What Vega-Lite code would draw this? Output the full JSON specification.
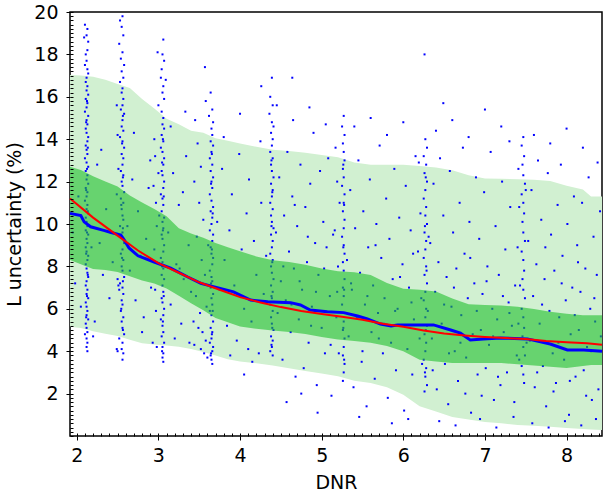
{
  "$schema": "https://vega.github.io/schema/vega-lite/v6.json",
  "width": 532,
  "height": 424,
  "autosize": "none",
  "padding": {"left": 70, "top": 12, "right": 7, "bottom": 55},
  "background": "white",
  "config": {
    "view": {"stroke": "black", "strokeWidth": 1.5},
    "axis": {
      "labelFont": "DejaVu Sans",
      "titleFont": "DejaVu Sans",
      "labelFontSize": 19,
      "titleFontSize": 19,
      "titleFontWeight": "normal",
      "labelColor": "black",
      "titleColor": "black",
      "tickColor": "black",
      "tickWidth": 1,
      "domain": false,
      "grid": false,
      "zindex": 1
    }
  },
  "resolve": {
    "scale": {"x": "independent", "y": "independent"},
    "axis": {"x": "independent", "y": "independent"}
  },
  "datasets": {
    "bands": [
      {"x": 1.917, "outer_lo": 5.15, "outer_hi": 17.03, "inner_lo": 8.3, "inner_hi": 12.7},
      {"x": 2.05, "outer_lo": 5.1, "outer_hi": 17.0, "inner_lo": 8.1, "inner_hi": 12.55},
      {"x": 2.2, "outer_lo": 4.94, "outer_hi": 16.94, "inner_lo": 7.88, "inner_hi": 12.25},
      {"x": 2.35, "outer_lo": 4.82, "outer_hi": 16.8, "inner_lo": 7.83, "inner_hi": 12.0},
      {"x": 2.5, "outer_lo": 4.72, "outer_hi": 16.6, "inner_lo": 7.73, "inner_hi": 11.77},
      {"x": 2.65, "outer_lo": 4.54, "outer_hi": 16.42, "inner_lo": 7.54, "inner_hi": 11.35},
      {"x": 2.8, "outer_lo": 4.37, "outer_hi": 15.9, "inner_lo": 7.34, "inner_hi": 11.02},
      {"x": 2.95, "outer_lo": 4.32, "outer_hi": 15.45, "inner_lo": 7.19, "inner_hi": 10.71},
      {"x": 3.1, "outer_lo": 4.27, "outer_hi": 14.97, "inner_lo": 6.96, "inner_hi": 10.37},
      {"x": 3.25, "outer_lo": 4.21, "outer_hi": 14.7, "inner_lo": 6.62, "inner_hi": 9.8},
      {"x": 3.4, "outer_lo": 4.1, "outer_hi": 14.4, "inner_lo": 6.26, "inner_hi": 9.55},
      {"x": 3.55, "outer_lo": 3.96, "outer_hi": 14.3, "inner_lo": 5.93, "inner_hi": 9.35},
      {"x": 3.7, "outer_lo": 3.8, "outer_hi": 14.05, "inner_lo": 5.57, "inner_hi": 9.1},
      {"x": 3.85, "outer_lo": 3.62, "outer_hi": 13.93, "inner_lo": 5.37, "inner_hi": 8.9},
      {"x": 4.0, "outer_lo": 3.52, "outer_hi": 13.8, "inner_lo": 5.16, "inner_hi": 8.71},
      {"x": 4.2, "outer_lo": 3.43, "outer_hi": 13.64, "inner_lo": 5.06, "inner_hi": 8.47},
      {"x": 4.4, "outer_lo": 3.33, "outer_hi": 13.5, "inner_lo": 4.98, "inner_hi": 8.29},
      {"x": 4.6, "outer_lo": 3.2, "outer_hi": 13.44, "inner_lo": 4.9, "inner_hi": 8.21},
      {"x": 4.8, "outer_lo": 3.07, "outer_hi": 13.36, "inner_lo": 4.81, "inner_hi": 8.08},
      {"x": 5.0, "outer_lo": 2.95, "outer_hi": 13.25, "inner_lo": 4.67, "inner_hi": 7.9},
      {"x": 5.2, "outer_lo": 2.82, "outer_hi": 13.15, "inner_lo": 4.55, "inner_hi": 7.77},
      {"x": 5.4, "outer_lo": 2.61, "outer_hi": 12.9, "inner_lo": 4.48, "inner_hi": 7.72},
      {"x": 5.6, "outer_lo": 2.5, "outer_hi": 12.8, "inner_lo": 4.4, "inner_hi": 7.6},
      {"x": 5.8, "outer_lo": 2.3, "outer_hi": 12.8, "inner_lo": 4.24, "inner_hi": 7.22},
      {"x": 6.0, "outer_lo": 1.95, "outer_hi": 12.79, "inner_lo": 4.0, "inner_hi": 6.95},
      {"x": 6.2, "outer_lo": 1.4, "outer_hi": 12.73, "inner_lo": 3.6, "inner_hi": 6.9},
      {"x": 6.4, "outer_lo": 1.15, "outer_hi": 12.67, "inner_lo": 3.51, "inner_hi": 6.82},
      {"x": 6.6, "outer_lo": 0.9, "outer_hi": 12.53, "inner_lo": 3.44, "inner_hi": 6.49},
      {"x": 6.8, "outer_lo": 0.78, "outer_hi": 12.3, "inner_lo": 3.44, "inner_hi": 6.22},
      {"x": 7.0, "outer_lo": 0.66, "outer_hi": 12.15, "inner_lo": 3.44, "inner_hi": 6.18},
      {"x": 7.2, "outer_lo": 0.6, "outer_hi": 12.13, "inner_lo": 3.44, "inner_hi": 6.15},
      {"x": 7.4, "outer_lo": 0.52, "outer_hi": 12.11, "inner_lo": 3.38, "inner_hi": 6.1},
      {"x": 7.6, "outer_lo": 0.48, "outer_hi": 12.09, "inner_lo": 3.33, "inner_hi": 5.99},
      {"x": 7.8, "outer_lo": 0.44, "outer_hi": 12.03, "inner_lo": 3.27, "inner_hi": 5.86},
      {"x": 8.0, "outer_lo": 0.38, "outer_hi": 11.8, "inner_lo": 3.21, "inner_hi": 5.77},
      {"x": 8.2, "outer_lo": 0.33, "outer_hi": 11.63, "inner_lo": 3.3, "inner_hi": 5.7},
      {"x": 8.3, "outer_lo": 0.31, "outer_hi": 11.3, "inner_lo": 3.35, "inner_hi": 5.7},
      {"x": 8.434, "outer_lo": 0.28, "outer_hi": 11.3, "inner_lo": 3.35, "inner_hi": 5.7}
    ],
    "median": [
      {"x": 1.917, "y": 10.5}, {"x": 2.05, "y": 10.4}, {"x": 2.09, "y": 10.1}, {"x": 2.17, "y": 9.87},
      {"x": 2.33, "y": 9.7}, {"x": 2.42, "y": 9.6}, {"x": 2.54, "y": 9.48}, {"x": 2.58, "y": 9.25},
      {"x": 2.64, "y": 8.87}, {"x": 2.75, "y": 8.5}, {"x": 2.94, "y": 8.22}, {"x": 3.15, "y": 7.92},
      {"x": 3.36, "y": 7.5}, {"x": 3.52, "y": 7.2}, {"x": 3.92, "y": 6.8}, {"x": 4.13, "y": 6.41},
      {"x": 4.34, "y": 6.33}, {"x": 4.62, "y": 6.29}, {"x": 4.74, "y": 6.18}, {"x": 4.86, "y": 5.94},
      {"x": 5.07, "y": 5.86}, {"x": 5.27, "y": 5.82}, {"x": 5.44, "y": 5.66}, {"x": 5.56, "y": 5.52},
      {"x": 5.72, "y": 5.28}, {"x": 5.85, "y": 5.19}, {"x": 5.93, "y": 5.24}, {"x": 6.37, "y": 5.24},
      {"x": 6.58, "y": 5.0}, {"x": 6.7, "y": 4.85}, {"x": 6.82, "y": 4.53}, {"x": 6.98, "y": 4.58},
      {"x": 7.19, "y": 4.62}, {"x": 7.52, "y": 4.58}, {"x": 7.8, "y": 4.34}, {"x": 8.01, "y": 4.06},
      {"x": 8.21, "y": 4.06}, {"x": 8.434, "y": 4.0}
    ],
    "fit": [
      {"x": 1.917, "y": 11.2}, {"x": 2.2, "y": 10.3}, {"x": 2.5, "y": 9.45}, {"x": 2.75, "y": 8.75},
      {"x": 3.0, "y": 8.15}, {"x": 3.25, "y": 7.7}, {"x": 3.5, "y": 7.25}, {"x": 3.75, "y": 6.9},
      {"x": 4.0, "y": 6.55}, {"x": 4.25, "y": 6.3}, {"x": 4.5, "y": 6.08}, {"x": 4.75, "y": 5.9},
      {"x": 5.0, "y": 5.75}, {"x": 5.25, "y": 5.62}, {"x": 5.5, "y": 5.48}, {"x": 5.75, "y": 5.3},
      {"x": 6.0, "y": 5.15}, {"x": 6.25, "y": 4.98}, {"x": 6.5, "y": 4.83}, {"x": 6.75, "y": 4.74},
      {"x": 7.0, "y": 4.67}, {"x": 7.25, "y": 4.62}, {"x": 7.5, "y": 4.57}, {"x": 7.75, "y": 4.48},
      {"x": 8.0, "y": 4.42}, {"x": 8.25, "y": 4.37}, {"x": 8.434, "y": 4.3}
    ],
    "points": [
      {"x":2.10,"y":19.4},{"x":2.13,"y":19.2},{"x":2.12,"y":18.9},{"x":2.09,"y":18.8},{"x":2.14,"y":18.6},{"x":2.13,"y":18.2},{"x":2.11,"y":18.0},{"x":2.12,"y":17.7},{"x":2.10,"y":17.5},{"x":2.13,"y":17.3},{"x":2.14,"y":17.1},{"x":2.12,"y":16.9},
      {"x":2.11,"y":16.7},{"x":2.13,"y":16.5},{"x":2.12,"y":16.3},{"x":2.14,"y":16.1},{"x":2.11,"y":15.9},{"x":2.13,"y":15.7},{"x":2.12,"y":15.5},{"x":2.10,"y":15.3},{"x":2.14,"y":15.1},{"x":2.12,"y":14.9},{"x":2.13,"y":14.7},{"x":2.11,"y":14.5},{"x":2.12,"y":14.3},{"x":2.14,"y":14.1},{"x":2.13,"y":13.9},{"x":2.11,"y":13.7},{"x":2.12,"y":13.5},{"x":2.13,"y":13.3},{"x":2.10,"y":13.1},{"x":2.12,"y":12.9},{"x":2.14,"y":12.7},{"x":2.11,"y":12.5},{"x":2.13,"y":12.3},{"x":2.12,"y":12.1},{"x":2.14,"y":11.9},{"x":2.11,"y":11.7},{"x":2.13,"y":11.5},{"x":2.12,"y":11.3},{"x":2.10,"y":11.1},{"x":2.13,"y":10.9},{"x":2.12,"y":10.7},{"x":2.14,"y":10.5},{"x":2.11,"y":10.3},{"x":2.12,"y":10.1},{"x":2.13,"y":9.9},{"x":2.11,"y":9.7},{"x":2.14,"y":9.5},{"x":2.12,"y":9.3},{"x":2.13,"y":9.1},{"x":2.11,"y":8.9},{"x":2.12,"y":8.7},{"x":2.14,"y":8.5},{"x":2.13,"y":8.3},{"x":2.11,"y":8.1},{"x":2.12,"y":7.9},{"x":2.13,"y":7.7},{"x":2.14,"y":7.5},{"x":2.12,"y":7.3},{"x":2.11,"y":7.1},{"x":2.13,"y":6.9},{"x":2.12,"y":6.7},{"x":2.14,"y":6.5},{"x":2.11,"y":6.3},{"x":2.12,"y":6.1},{"x":2.13,"y":5.9},{"x":2.12,"y":5.7},{"x":2.14,"y":5.5},{"x":2.11,"y":5.3},{"x":2.12,"y":5.1},{"x":2.13,"y":4.9},{"x":2.10,"y":4.8},{"x":2.12,"y":4.6},{"x":2.13,"y":4.4},{"x":2.12,"y":4.2},{"x":2.13,"y":4.0},
      {"x":2.125,"y":15.8},{"x":2.115,"y":14.8},{"x":2.135,"y":13.6},{"x":2.125,"y":12.6},{"x":2.115,"y":11.6},{"x":2.135,"y":10.6},{"x":2.125,"y":9.6},{"x":2.115,"y":8.6},{"x":2.135,"y":7.6},{"x":2.125,"y":6.6},{"x":2.115,"y":5.6},
      {"x":2.56,"y":19.8},{"x":2.53,"y":19.6},{"x":2.55,"y":19.3},{"x":2.57,"y":18.9},{"x":2.52,"y":18.5},{"x":2.56,"y":18.1},{"x":2.54,"y":17.8},{"x":2.58,"y":17.5},{"x":2.55,"y":17.2},{"x":2.57,"y":16.9},{"x":2.53,"y":16.7},{"x":2.56,"y":16.4},
      {"x":2.55,"y":16.2},{"x":2.57,"y":15.9},{"x":2.56,"y":15.6},{"x":2.54,"y":15.4},{"x":2.58,"y":15.2},{"x":2.56,"y":14.9},{"x":2.55,"y":14.6},{"x":2.57,"y":14.4},{"x":2.53,"y":14.1},{"x":2.56,"y":13.9},{"x":2.58,"y":13.6},{"x":2.55,"y":13.3},{"x":2.57,"y":13.1},{"x":2.56,"y":12.8},{"x":2.54,"y":12.5},{"x":2.57,"y":12.3},{"x":2.55,"y":12.0},{"x":2.56,"y":11.8},{"x":2.58,"y":11.5},{"x":2.54,"y":11.2},{"x":2.57,"y":11.0},{"x":2.55,"y":10.7},{"x":2.56,"y":10.4},{"x":2.57,"y":10.2},{"x":2.53,"y":9.9},{"x":2.56,"y":9.6},{"x":2.55,"y":9.4},{"x":2.58,"y":9.1},{"x":2.56,"y":8.8},{"x":2.54,"y":8.6},{"x":2.57,"y":8.3},{"x":2.55,"y":8.0},{"x":2.56,"y":7.8},{"x":2.58,"y":7.5},{"x":2.53,"y":7.2},{"x":2.56,"y":7.0},{"x":2.57,"y":6.7},{"x":2.55,"y":6.4},{"x":2.56,"y":6.2},{"x":2.54,"y":5.9},{"x":2.57,"y":5.6},{"x":2.55,"y":5.4},{"x":2.56,"y":5.1},{"x":2.58,"y":4.8},{"x":2.52,"y":4.6},{"x":2.56,"y":4.4},{"x":2.55,"y":4.1},{"x":2.57,"y":3.9},{"x":2.56,"y":3.6},
      {"x":2.49,"y":15.6},{"x":2.50,"y":14.2},{"x":2.51,"y":12.6},{"x":2.49,"y":11.4},{"x":2.50,"y":7.4},{"x":2.51,"y":7.1},{"x":2.49,"y":4.1},{"x":2.50,"y":4.0},{"x":2.52,"y":6.9},
      {"x":2.565,"y":15.1},{"x":2.555,"y":13.8},{"x":2.565,"y":12.2},{"x":2.545,"y":10.9},{"x":2.565,"y":9.8},{"x":2.555,"y":8.4},{"x":2.565,"y":7.3},{"x":2.545,"y":6.0},{"x":2.565,"y":5.0},
      {"x":3.06,"y":18.7},{"x":2.99,"y":18.1},{"x":3.05,"y":18.0},{"x":3.07,"y":17.7},{"x":3.04,"y":17.3},{"x":3.03,"y":16.9},{"x":3.06,"y":16.5},{"x":3.05,"y":16.2},{"x":3.07,"y":15.9},{"x":3.00,"y":15.6},{"x":3.04,"y":15.3},
      {"x":3.06,"y":15.0},{"x":3.05,"y":14.7},{"x":3.07,"y":14.5},{"x":3.04,"y":14.2},{"x":3.06,"y":13.9},{"x":3.03,"y":13.6},{"x":3.05,"y":13.4},{"x":3.07,"y":13.1},{"x":3.06,"y":12.8},{"x":3.04,"y":12.5},{"x":3.05,"y":12.3},{"x":3.07,"y":12.0},{"x":3.06,"y":11.7},{"x":3.03,"y":11.4},{"x":3.05,"y":11.2},{"x":3.06,"y":10.9},{"x":3.04,"y":10.6},{"x":3.07,"y":10.3},{"x":3.05,"y":10.1},{"x":3.06,"y":9.8},{"x":3.04,"y":9.5},{"x":3.05,"y":9.3},{"x":3.07,"y":9.0},{"x":3.06,"y":8.7},{"x":3.03,"y":8.4},{"x":3.05,"y":8.2},{"x":3.06,"y":7.9},{"x":3.04,"y":7.6},{"x":3.07,"y":7.4},{"x":3.05,"y":7.1},{"x":3.06,"y":6.8},{"x":3.04,"y":6.5},{"x":3.05,"y":6.3},{"x":3.07,"y":6.0},{"x":3.06,"y":5.7},{"x":3.03,"y":5.5},{"x":3.05,"y":5.2},{"x":3.06,"y":4.9},{"x":3.04,"y":4.7},{"x":3.07,"y":4.4},{"x":3.05,"y":4.2},{"x":3.06,"y":3.9},{"x":3.05,"y":3.7},{"x":3.06,"y":3.5},
      {"x":2.95,"y":14.0},{"x":2.96,"y":13.2},{"x":2.94,"y":11.8},{"x":2.97,"y":11.0},{"x":2.98,"y":9.9},{"x":2.95,"y":8.8},{"x":2.96,"y":6.9},{"x":2.97,"y":5.9},{"x":2.93,"y":4.4},{"x":2.98,"y":4.2},{"x":3.00,"y":12.4},{"x":3.01,"y":10.4},{"x":3.09,"y":16.8},
      {"x":3.055,"y":14.0},{"x":3.045,"y":12.9},{"x":3.065,"y":11.3},{"x":3.055,"y":9.7},{"x":3.045,"y":8.0},{"x":3.065,"y":6.6},{"x":3.055,"y":5.4},{"x":3.045,"y":4.0},
      {"x":3.64,"y":16.2},{"x":3.58,"y":15.8},{"x":3.66,"y":15.4},{"x":3.62,"y":15.1},{"x":3.67,"y":14.8},{"x":3.65,"y":14.5},
      {"x":3.66,"y":14.2},{"x":3.64,"y":13.9},{"x":3.67,"y":13.7},{"x":3.65,"y":13.4},{"x":3.63,"y":13.1},{"x":3.66,"y":12.8},{"x":3.64,"y":12.5},{"x":3.67,"y":12.2},{"x":3.65,"y":12.0},{"x":3.66,"y":11.7},{"x":3.63,"y":11.4},{"x":3.65,"y":11.1},{"x":3.67,"y":10.8},{"x":3.64,"y":10.6},{"x":3.66,"y":10.3},{"x":3.65,"y":10.0},{"x":3.63,"y":9.7},{"x":3.67,"y":9.5},{"x":3.66,"y":9.2},{"x":3.64,"y":8.9},{"x":3.65,"y":8.6},{"x":3.67,"y":8.4},{"x":3.66,"y":8.1},{"x":3.63,"y":7.8},{"x":3.65,"y":7.5},{"x":3.66,"y":7.3},{"x":3.64,"y":7.0},{"x":3.67,"y":6.7},{"x":3.65,"y":6.5},{"x":3.66,"y":6.2},{"x":3.63,"y":5.9},{"x":3.65,"y":5.7},{"x":3.67,"y":5.4},{"x":3.64,"y":5.1},{"x":3.66,"y":4.9},{"x":3.65,"y":4.6},{"x":3.63,"y":4.4},{"x":3.67,"y":4.2},{"x":3.66,"y":4.0},{"x":3.64,"y":3.8},{"x":3.65,"y":3.6},{"x":3.66,"y":3.4},
      {"x":3.45,"y":14.9},{"x":3.48,"y":13.8},{"x":3.52,"y":12.7},{"x":3.44,"y":12.0},{"x":3.50,"y":11.0},{"x":3.55,"y":10.2},{"x":3.47,"y":9.4},{"x":3.53,"y":8.3},{"x":3.57,"y":7.6},{"x":3.46,"y":6.6},{"x":3.51,"y":5.8},{"x":3.43,"y":5.4},{"x":3.49,"y":5.1},{"x":3.54,"y":4.9},{"x":3.58,"y":4.5},{"x":3.44,"y":4.3},{"x":3.52,"y":4.1},{"x":3.56,"y":3.9},{"x":3.60,"y":3.7},{"x":3.59,"y":6.1},{"x":3.61,"y":9.0},
      {"x":3.655,"y":13.3},{"x":3.645,"y":11.9},{"x":3.665,"y":10.5},{"x":3.655,"y":8.8},{"x":3.645,"y":7.2},{"x":3.665,"y":5.9},{"x":3.655,"y":4.8},{"x":3.645,"y":3.9},
      {"x":4.39,"y":16.9},{"x":4.37,"y":16.0},{"x":4.40,"y":15.6},{"x":4.36,"y":15.2},{"x":4.39,"y":14.8},{"x":4.41,"y":14.6},
      {"x":4.38,"y":14.3},{"x":4.40,"y":14.0},{"x":4.39,"y":13.7},{"x":4.37,"y":13.4},{"x":4.40,"y":13.1},{"x":4.38,"y":12.8},{"x":4.39,"y":12.5},{"x":4.41,"y":12.2},{"x":4.38,"y":11.9},{"x":4.40,"y":11.6},{"x":4.39,"y":11.3},{"x":4.37,"y":11.0},{"x":4.40,"y":10.7},{"x":4.38,"y":10.4},{"x":4.39,"y":10.1},{"x":4.41,"y":9.8},{"x":4.38,"y":9.5},{"x":4.40,"y":9.2},{"x":4.39,"y":8.9},{"x":4.37,"y":8.6},{"x":4.40,"y":8.3},{"x":4.38,"y":8.0},{"x":4.39,"y":7.7},{"x":4.41,"y":7.4},{"x":4.38,"y":7.1},{"x":4.40,"y":6.8},{"x":4.39,"y":6.5},{"x":4.37,"y":6.2},{"x":4.40,"y":5.9},{"x":4.38,"y":5.6},{"x":4.39,"y":5.3},{"x":4.41,"y":5.0},{"x":4.38,"y":4.7},{"x":4.40,"y":4.5},{"x":4.39,"y":4.2},{"x":4.37,"y":4.0},{"x":4.40,"y":3.8},
      {"x":4.385,"y":13.0},{"x":4.395,"y":11.5},{"x":4.385,"y":9.9},{"x":4.395,"y":8.2},{"x":4.385,"y":6.6},{"x":4.395,"y":5.1},{"x":4.385,"y":4.3},
      {"x":5.27,"y":15.1},{"x":5.25,"y":14.6},{"x":5.28,"y":14.2},{"x":5.26,"y":13.8},{"x":5.27,"y":13.4},{"x":5.28,"y":13.0},{"x":5.26,"y":12.6},{"x":5.27,"y":12.2},{"x":5.25,"y":11.8},{"x":5.28,"y":11.4},{"x":5.27,"y":11.0},{"x":5.26,"y":10.6},{"x":5.28,"y":10.2},{"x":5.27,"y":9.8},{"x":5.25,"y":9.4},{"x":5.27,"y":9.0},{"x":5.28,"y":8.6},{"x":5.26,"y":8.2},{"x":5.27,"y":7.8},{"x":5.28,"y":7.4},{"x":5.26,"y":7.0},{"x":5.27,"y":6.6},{"x":5.25,"y":6.2},{"x":5.28,"y":5.8},{"x":5.27,"y":5.4},{"x":5.26,"y":5.0},{"x":5.28,"y":4.6},{"x":5.27,"y":4.2},{"x":5.26,"y":3.8},{"x":5.28,"y":3.4},{"x":5.27,"y":3.0},{"x":5.26,"y":2.6},
      {"x":5.17,"y":13.6},{"x":5.19,"y":12.0},{"x":5.16,"y":9.7},{"x":5.20,"y":8.0},{"x":5.18,"y":5.6},{"x":5.21,"y":3.9},{"x":5.22,"y":11.0},{"x":5.19,"y":6.8},
      {"x":5.265,"y":12.8},{"x":5.275,"y":10.9},{"x":5.265,"y":8.9},{"x":5.275,"y":6.9},{"x":5.265,"y":5.1},{"x":5.275,"y":3.6},
      {"x":6.27,"y":14.0},{"x":6.29,"y":13.6},{"x":6.25,"y":13.2},{"x":6.28,"y":12.8},{"x":6.26,"y":12.4},{"x":6.29,"y":12.0},{"x":6.27,"y":11.6},{"x":6.25,"y":11.2},{"x":6.28,"y":10.8},{"x":6.27,"y":10.4},{"x":6.29,"y":10.0},{"x":6.26,"y":9.6},{"x":6.28,"y":9.2},{"x":6.27,"y":8.8},{"x":6.25,"y":8.4},{"x":6.28,"y":8.0},{"x":6.26,"y":7.6},{"x":6.29,"y":7.2},{"x":6.27,"y":6.8},{"x":6.25,"y":6.4},{"x":6.28,"y":6.0},{"x":6.27,"y":5.6},{"x":6.29,"y":5.2},{"x":6.26,"y":4.8},{"x":6.28,"y":4.4},{"x":6.27,"y":4.0},{"x":6.25,"y":3.6},{"x":6.28,"y":3.2},{"x":6.27,"y":2.8},{"x":6.29,"y":2.4},{"x":6.26,"y":2.1},
      {"x":6.19,"y":12.9},{"x":6.21,"y":10.5},{"x":6.18,"y":8.7},{"x":6.22,"y":6.5},{"x":6.20,"y":4.6},{"x":6.23,"y":3.4},{"x":6.31,"y":9.4},{"x":6.30,"y":5.9},
      {"x":6.275,"y":12.2},{"x":6.265,"y":9.9},{"x":6.285,"y":7.8},{"x":6.275,"y":5.0},{"x":6.265,"y":3.0},
      {"x":7.47,"y":14.1},{"x":7.45,"y":13.7},{"x":7.48,"y":13.2},{"x":7.46,"y":12.8},{"x":7.47,"y":12.3},{"x":7.49,"y":11.9},{"x":7.45,"y":11.4},{"x":7.47,"y":11.0},{"x":7.48,"y":10.5},{"x":7.46,"y":10.1},{"x":7.47,"y":9.6},{"x":7.49,"y":9.2},{"x":7.45,"y":8.7},{"x":7.47,"y":8.3},{"x":7.48,"y":7.8},{"x":7.46,"y":7.4},{"x":7.47,"y":6.9},{"x":7.49,"y":6.5},{"x":7.45,"y":6.0},{"x":7.47,"y":5.6},{"x":7.48,"y":5.1},{"x":7.46,"y":4.7},{"x":7.47,"y":4.2},{"x":7.49,"y":3.8},{"x":7.45,"y":3.3},{"x":7.47,"y":2.9},{"x":7.48,"y":2.5},
      {"x":7.41,"y":12.6},{"x":7.42,"y":10.8},{"x":7.40,"y":8.9},{"x":7.43,"y":7.1},{"x":7.41,"y":5.3},{"x":7.42,"y":3.6},{"x":7.50,"y":11.6},{"x":7.51,"y":4.4},
      {"x":1.95,"y":9.6},{"x":1.98,"y":7.2},{"x":2.02,"y":11.3},{"x":2.05,"y":6.1},{"x":2.18,"y":8.9},{"x":2.22,"y":5.4},{"x":2.25,"y":12.8},{"x":2.28,"y":9.1},{"x":2.32,"y":7.6},{"x":2.36,"y":10.7},{"x":2.40,"y":6.5},{"x":2.44,"y":8.2},{"x":2.20,"y":4.7},{"x":2.30,"y":13.5},
      {"x":2.62,"y":9.9},{"x":2.65,"y":7.8},{"x":2.68,"y":12.1},{"x":2.72,"y":6.4},{"x":2.75,"y":10.6},{"x":2.78,"y":8.5},{"x":2.82,"y":5.6},{"x":2.85,"y":9.3},{"x":2.88,"y":11.7},{"x":2.91,"y":7.0},{"x":2.70,"y":14.3},{"x":2.80,"y":4.9},{"x":2.90,"y":13.0},
      {"x":3.12,"y":9.6},{"x":3.15,"y":6.2},{"x":3.18,"y":12.4},{"x":3.22,"y":8.1},{"x":3.25,"y":10.9},{"x":3.28,"y":5.3},{"x":3.31,"y":7.4},{"x":3.34,"y":13.2},{"x":3.37,"y":9.0},{"x":3.40,"y":6.8},{"x":3.20,"y":4.6},{"x":3.30,"y":11.5},{"x":3.38,"y":4.4},{"x":3.15,"y":14.6},{"x":3.33,"y":15.3},{"x":3.26,"y":7.9},
      {"x":3.72,"y":10.1},{"x":3.75,"y":6.9},{"x":3.78,"y":12.6},{"x":3.81,"y":8.3},{"x":3.84,"y":5.2},{"x":3.87,"y":9.7},{"x":3.90,"y":11.4},{"x":3.93,"y":7.1},{"x":3.96,"y":4.5},{"x":3.99,"y":13.3},{"x":4.02,"y":8.8},{"x":4.05,"y":6.0},{"x":4.08,"y":10.5},{"x":4.11,"y":12.1},{"x":4.14,"y":5.4},{"x":4.17,"y":9.2},{"x":4.20,"y":7.6},{"x":4.23,"y":3.9},{"x":4.26,"y":11.0},{"x":4.29,"y":6.7},{"x":4.32,"y":8.5},{"x":3.80,"y":14.1},{"x":4.00,"y":15.2},{"x":4.10,"y":4.1},{"x":4.25,"y":13.9},{"x":3.88,"y":3.8},{"x":4.15,"y":3.5},{"x":4.05,"y":2.9},
      {"x":3.57,"y":17.4},{"x":4.64,"y":16.9},{"x":4.26,"y":16.5},{"x":6.26,"y":18.0},{"x":6.49,"y":15.7},
      {"x":4.44,"y":9.6},{"x":4.46,"y":5.8},{"x":4.48,"y":12.2},{"x":4.50,"y":7.3},{"x":4.52,"y":3.6},{"x":4.54,"y":10.4},{"x":4.56,"y":6.4},{"x":4.58,"y":13.4},{"x":4.60,"y":8.7},{"x":4.62,"y":4.9},{"x":4.64,"y":11.3},{"x":4.66,"y":7.9},{"x":4.68,"y":2.8},{"x":4.70,"y":9.9},{"x":4.72,"y":5.5},{"x":4.74,"y":12.8},{"x":4.76,"y":6.9},{"x":4.78,"y":3.2},{"x":4.80,"y":10.8},{"x":4.82,"y":8.2},{"x":4.84,"y":4.4},{"x":4.86,"y":11.9},{"x":4.88,"y":6.1},{"x":4.90,"y":14.3},{"x":4.92,"y":9.1},{"x":4.94,"y":2.4},{"x":4.96,"y":7.6},{"x":4.98,"y":12.5},{"x":5.00,"y":5.1},{"x":5.02,"y":10.1},{"x":5.04,"y":3.9},{"x":5.06,"y":8.9},{"x":5.08,"y":13.1},{"x":5.10,"y":6.6},{"x":5.12,"y":1.9},{"x":5.14,"y":9.5},{"x":4.45,"y":15.6},{"x":4.65,"y":14.9},{"x":4.85,"y":15.5},{"x":5.05,"y":14.7},{"x":4.57,"y":1.6},{"x":4.75,"y":2.0},{"x":4.95,"y":1.1},{"x":5.11,"y":4.3},{"x":4.87,"y":5.2},{"x":4.63,"y":6.2},{"x":4.53,"y":8.0},{"x":4.73,"y":7.3},{"x":4.93,"y":6.8},{"x":5.03,"y":7.9},{"x":4.83,"y":9.4},{"x":4.67,"y":10.9},
      {"x":5.31,"y":8.3},{"x":5.33,"y":4.7},{"x":5.35,"y":11.6},{"x":5.37,"y":6.9},{"x":5.39,"y":2.3},{"x":5.41,"y":9.8},{"x":5.43,"y":5.6},{"x":5.45,"y":13.0},{"x":5.47,"y":7.7},{"x":5.49,"y":3.5},{"x":5.51,"y":10.6},{"x":5.53,"y":6.2},{"x":5.55,"y":1.4},{"x":5.57,"y":8.9},{"x":5.59,"y":12.1},{"x":5.61,"y":4.9},{"x":5.63,"y":7.1},{"x":5.65,"y":2.7},{"x":5.67,"y":10.0},{"x":5.69,"y":5.8},{"x":5.71,"y":13.7},{"x":5.73,"y":8.4},{"x":5.75,"y":3.9},{"x":5.77,"y":6.5},{"x":5.79,"y":11.2},{"x":5.81,"y":1.8},{"x":5.83,"y":9.3},{"x":5.85,"y":4.4},{"x":5.87,"y":7.4},{"x":5.89,"y":12.6},{"x":5.91,"y":3.1},{"x":5.93,"y":6.0},{"x":5.95,"y":10.3},{"x":5.97,"y":5.2},{"x":5.99,"y":8.1},{"x":6.01,"y":1.2},{"x":6.03,"y":11.8},{"x":6.05,"y":4.1},{"x":6.07,"y":7.0},{"x":6.09,"y":9.7},{"x":6.11,"y":2.9},{"x":6.13,"y":5.5},{"x":6.15,"y":13.2},{"x":5.40,"y":14.6},{"x":5.60,"y":15.0},{"x":5.80,"y":14.2},{"x":6.00,"y":14.8},{"x":5.50,"y":4.0},{"x":5.70,"y":4.6},{"x":5.90,"y":5.9},{"x":6.10,"y":6.3},{"x":5.36,"y":7.2},{"x":5.56,"y":6.6},{"x":5.76,"y":5.3},{"x":5.96,"y":7.5},{"x":5.46,"y":0.9},{"x":5.86,"y":0.6},{"x":6.06,"y":0.8},{"x":5.66,"y":9.0},{"x":6.12,"y":8.6},
      {"x":6.33,"y":9.1},{"x":6.35,"y":4.6},{"x":6.37,"y":11.9},{"x":6.39,"y":6.8},{"x":6.41,"y":2.2},{"x":6.43,"y":8.2},{"x":6.45,"y":13.1},{"x":6.47,"y":5.3},{"x":6.49,"y":10.4},{"x":6.51,"y":3.4},{"x":6.53,"y":7.5},{"x":6.55,"y":1.5},{"x":6.57,"y":12.5},{"x":6.59,"y":6.1},{"x":6.61,"y":9.6},{"x":6.63,"y":4.0},{"x":6.65,"y":7.9},{"x":6.67,"y":2.6},{"x":6.69,"y":11.0},{"x":6.71,"y":5.7},{"x":6.73,"y":13.6},{"x":6.75,"y":8.6},{"x":6.77,"y":3.7},{"x":6.79,"y":6.5},{"x":6.81,"y":10.1},{"x":6.83,"y":1.1},{"x":6.85,"y":4.8},{"x":6.87,"y":7.2},{"x":6.89,"y":12.2},{"x":6.91,"y":2.9},{"x":6.93,"y":9.3},{"x":6.95,"y":5.0},{"x":6.97,"y":6.7},{"x":6.99,"y":11.5},{"x":7.01,"y":3.2},{"x":7.03,"y":8.0},{"x":7.05,"y":4.3},{"x":7.07,"y":13.4},{"x":7.09,"y":6.0},{"x":7.11,"y":1.7},{"x":7.13,"y":9.9},{"x":7.15,"y":5.5},{"x":7.17,"y":7.6},{"x":7.19,"y":2.4},{"x":7.21,"y":12.0},{"x":7.23,"y":4.9},{"x":7.25,"y":8.8},{"x":7.27,"y":3.0},{"x":7.29,"y":6.3},{"x":7.31,"y":10.8},{"x":7.33,"y":5.2},{"x":7.35,"y":0.9},{"x":7.37,"y":7.1},{"x":7.39,"y":3.8},{"x":6.40,"y":14.4},{"x":6.60,"y":14.9},{"x":6.80,"y":14.1},{"x":7.00,"y":15.4},{"x":7.20,"y":14.6},{"x":7.30,"y":13.9},{"x":6.50,"y":6.2},{"x":6.70,"y":4.4},{"x":6.90,"y":5.9},{"x":7.10,"y":4.7},{"x":7.30,"y":5.8},{"x":6.44,"y":0.7},{"x":6.64,"y":0.5},{"x":6.94,"y":0.8},{"x":7.14,"y":0.4},{"x":6.36,"y":3.1},{"x":6.56,"y":3.9},{"x":6.76,"y":2.0},{"x":6.96,"y":1.9},{"x":7.16,"y":2.8},{"x":7.36,"y":1.6},{"x":6.62,"y":7.0},{"x":6.82,"y":8.4},{"x":7.02,"y":7.3},{"x":7.22,"y":6.6},
      {"x":7.53,"y":9.2},{"x":7.55,"y":4.5},{"x":7.57,"y":11.6},{"x":7.59,"y":6.6},{"x":7.61,"y":2.3},{"x":7.63,"y":8.1},{"x":7.65,"y":13.0},{"x":7.67,"y":5.3},{"x":7.69,"y":10.2},{"x":7.71,"y":3.3},{"x":7.73,"y":7.4},{"x":7.75,"y":1.4},{"x":7.77,"y":12.4},{"x":7.79,"y":5.9},{"x":7.81,"y":9.5},{"x":7.83,"y":3.9},{"x":7.85,"y":7.8},{"x":7.87,"y":2.5},{"x":7.89,"y":10.9},{"x":7.91,"y":5.6},{"x":7.93,"y":12.8},{"x":7.95,"y":8.5},{"x":7.97,"y":3.6},{"x":7.99,"y":6.4},{"x":8.01,"y":10.0},{"x":8.03,"y":1.0},{"x":8.05,"y":4.8},{"x":8.07,"y":7.0},{"x":8.09,"y":11.3},{"x":8.11,"y":2.8},{"x":8.13,"y":9.0},{"x":8.15,"y":5.0},{"x":8.17,"y":6.8},{"x":8.19,"y":11.0},{"x":8.21,"y":3.1},{"x":8.23,"y":7.9},{"x":8.25,"y":4.2},{"x":8.27,"y":12.2},{"x":8.29,"y":6.0},{"x":8.31,"y":1.7},{"x":8.33,"y":9.4},{"x":8.35,"y":5.4},{"x":8.37,"y":7.6},{"x":8.39,"y":2.2},{"x":8.41,"y":10.6},{"x":8.42,"y":4.7},{"x":7.60,"y":14.2},{"x":7.80,"y":13.8},{"x":8.00,"y":14.5},{"x":8.20,"y":13.6},{"x":8.38,"y":12.9},{"x":7.70,"y":6.2},{"x":7.90,"y":4.4},{"x":8.10,"y":5.7},{"x":8.30,"y":4.0},{"x":7.58,"y":0.6},{"x":7.78,"y":0.4},{"x":7.98,"y":0.7},{"x":8.18,"y":0.5},{"x":8.36,"y":0.8},{"x":7.64,"y":3.0},{"x":7.84,"y":2.1},{"x":8.04,"y":2.6},{"x":8.24,"y":1.9},{"x":7.74,"y":8.9},{"x":7.94,"y":7.2},{"x":8.14,"y":8.2},{"x":8.34,"y":6.5}
    ]
  },
  "layer": [
    {
      "data": {"name": "bands"},
      "mark": {"type": "area", "color": "#d1f0d1", "opacity": 1},
      "encoding": {
        "x": {
          "field": "x", "type": "quantitative",
          "scale": {"domain": [1.917, 8.434], "nice": false, "zero": false},
          "axis": {
            "orient": "bottom", "values": [2, 3, 4, 5, 6, 7, 8], "tickSize": 4, "zindex": 1,
            "labelBaseline": "alphabetic", "labelPadding": 21, "title": "DNR",
            "titleX": 266, "titleY": 52, "titleBaseline": "alphabetic"
          }
        },
        "y": {
          "field": "outer_hi", "type": "quantitative",
          "scale": {"domain": [0, 20], "nice": false, "zero": false},
          "axis": {
            "orient": "left", "values": [2, 4, 6, 8, 10, 12, 14, 16, 18, 20], "tickSize": 4, "zindex": 1,
            "labelPadding": 8, "title": "L uncertainty (%)",
            "titleX": -50, "titleY": 212, "titleAngle": -90, "titleBaseline": "alphabetic", "titleAlign": "center"
          }
        },
        "y2": {"field": "outer_lo"}
      }
    },
    {
      "data": {"name": "points"},
      "mark": {"type": "square", "color": "#0000ff", "size": 4, "opacity": 1, "filled": true},
      "encoding": {
        "x": {
          "field": "x", "type": "quantitative",
          "scale": {"domain": [1.917, 8.434], "nice": false, "zero": false},
          "axis": {"orient": "bottom", "tickCount": 65, "tickSize": 3, "offset": -3, "zindex": 2, "labels": false, "title": null, "ticks": true, "domain": false}
        },
        "y": {
          "field": "y", "type": "quantitative",
          "scale": {"domain": [0, 20], "nice": false, "zero": false},
          "axis": {"orient": "left", "tickCount": 100, "tickSize": 3, "offset": -3, "zindex": 2, "labels": false, "title": null, "ticks": true, "domain": false}
        }
      }
    },
    {
      "data": {"name": "bands"},
      "mark": {"type": "area", "color": "#1fc02d", "opacity": 0.6},
      "encoding": {
        "x": {"field": "x", "type": "quantitative", "scale": {"domain": [1.917, 8.434], "nice": false, "zero": false}, "axis": null},
        "y": {"field": "inner_hi", "type": "quantitative", "scale": {"domain": [0, 20], "nice": false, "zero": false}, "axis": null},
        "y2": {"field": "inner_lo"}
      }
    },
    {
      "data": {"name": "median"},
      "mark": {"type": "line", "color": "#0000ff", "strokeWidth": 3},
      "encoding": {
        "x": {"field": "x", "type": "quantitative", "scale": {"domain": [1.917, 8.434], "nice": false, "zero": false}, "axis": null},
        "y": {"field": "y", "type": "quantitative", "scale": {"domain": [0, 20], "nice": false, "zero": false}, "axis": null}
      }
    },
    {
      "data": {"name": "fit"},
      "mark": {"type": "line", "color": "#ff0000", "strokeWidth": 2},
      "encoding": {
        "x": {"field": "x", "type": "quantitative", "scale": {"domain": [1.917, 8.434], "nice": false, "zero": false}, "axis": null},
        "y": {"field": "y", "type": "quantitative", "scale": {"domain": [0, 20], "nice": false, "zero": false}, "axis": null}
      }
    }
  ]
}
